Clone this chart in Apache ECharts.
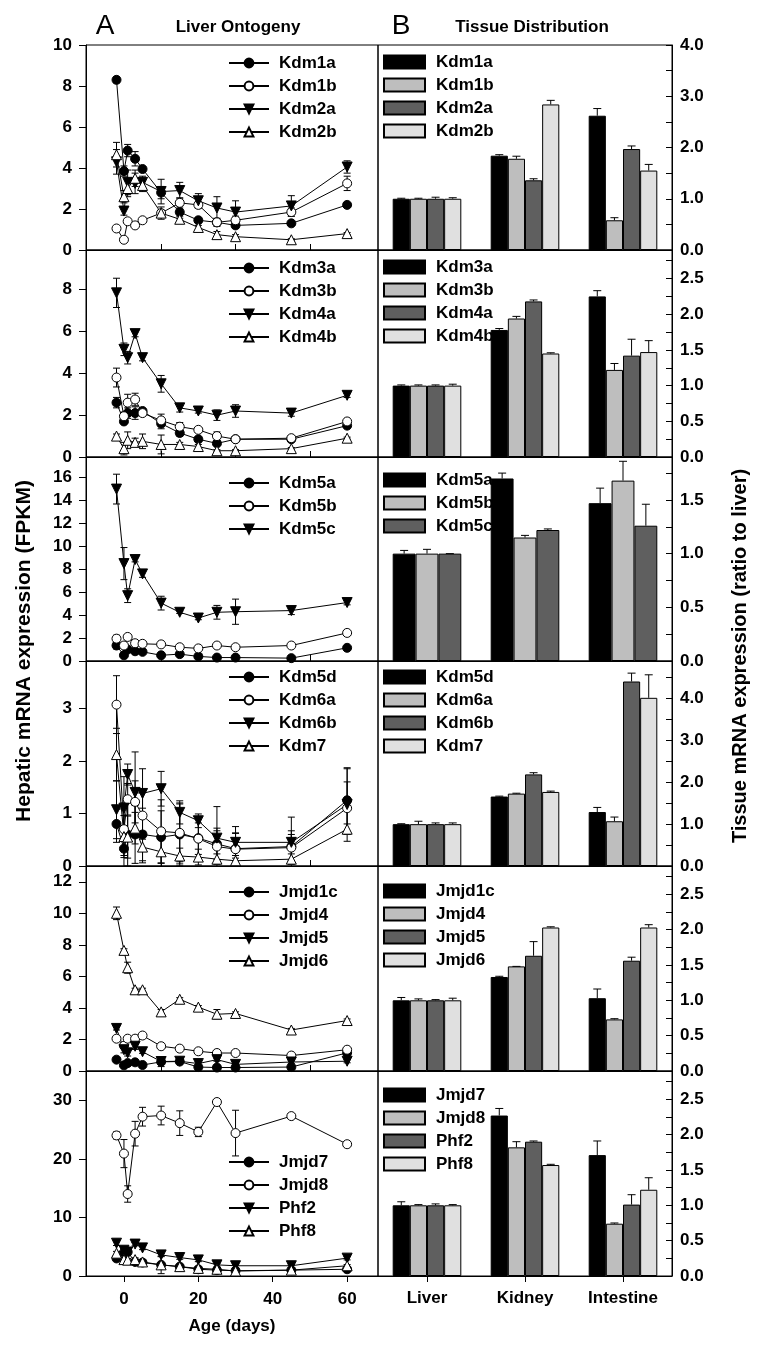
<!DOCTYPE html>
<html><head><meta charset="utf-8">
<script src="https://cdn.jsdelivr.net/npm/echarts@6/dist/echarts.min.js"></script>
<style>html,body{margin:0;padding:0;background:#fff}#c{width:764px;height:1350px}</style>
</head><body><div id="c"></div>
<script>
// ---------------- DATA ----------------
const days = [-2, 0, 1, 3, 5, 10, 15, 20, 25, 30, 45, 60];
const tissues = ['Liver', 'Kidney', 'Intestine'];

const row1Genes = ['Kdm1a', 'Kdm1b', 'Kdm2a', 'Kdm2b'];
const row1Ontogeny = [
  [8.3, 3.85, 4.85, 4.45, 3.95, 2.8, 1.85, 1.45, 1.35, 1.2, 1.3, 2.2],
  [1.05, 0.5, 1.4, 1.2, 1.45, 1.8, 2.3, 2.2, 1.35, 1.45, 1.85, 3.25],
  [4.3, 1.9, 3.3, 3.25, 3.3, 2.85, 2.9, 2.4, 2.05, 1.85, 2.15, 4.05],
  [4.65, 2.6, 3.0, 3.5, 3.15, 1.8, 1.5, 1.1, 0.75, 0.65, 0.5, 0.8]
];
const row1OntogenyErr = [
  [0.15, 0.25, 0.3, 0.35, 0.1, 0.3, 0.3, 0.1, 0.15, 0.15, 0.1, 0.1],
  [0.1, 0.1, 0.1, 0.1, 0.1, 0.15, 0.25, 0.15, 0.2, 0.2, 0.2, 0.35],
  [0.6, 0.2, 0.6, 0.5, 0.3, 0.6, 0.4, 0.35, 0.55, 0.55, 0.5, 0.3],
  [0.6, 0.3, 0.4, 0.4, 0.3, 0.3, 0.15, 0.1, 0.15, 0.1, 0.05, 0.05]
];
const row1Tissue = [[1, 1.84, 2.62], [1, 1.78, 0.58], [1, 1.36, 1.97], [1, 2.84, 1.55]];
const row1TissueErr = [[0.01, 0.02, 0.14], [0.01, 0.05, 0.05], [0.03, 0.03, 0.06], [0.02, 0.08, 0.12]];

const row2Genes = ['Kdm3a', 'Kdm3b', 'Kdm4a', 'Kdm4b'];
const row2Ontogeny = [
  [2.6, 1.7, 2.1, 2.1, 2.2, 1.6, 1.15, 0.85, 0.65, 0.85, 0.85, 1.5],
  [3.8, 1.95, 2.6, 2.75, 2.1, 1.75, 1.45, 1.3, 1.0, 0.85, 0.9, 1.7],
  [7.85, 5.15, 4.75, 5.9, 4.75, 3.5, 2.35, 2.2, 2.0, 2.2, 2.1, 2.95],
  [1.0, 0.4, 0.8, 0.7, 0.75, 0.6, 0.6, 0.5, 0.3, 0.3, 0.4, 0.9]
];
const row2OntogenyErr = [
  [0.25, 0.1, 0.25, 0.3, 0.1, 0.25, 0.15, 0.1, 0.1, 0.1, 0.1, 0.1],
  [0.45, 0.2, 0.4, 0.3, 0.15, 0.3, 0.2, 0.1, 0.2, 0.1, 0.1, 0.1],
  [0.7, 0.3, 0.3, 0.15, 0.15, 0.4, 0.2, 0.1, 0.25, 0.3, 0.15, 0.1],
  [0.1, 0.3, 0.4, 0.2, 0.35, 0.45, 0.1, 0.1, 0.05, 0.05, 0.05, 0.05]
];
const row2Tissue = [[1, 1.78, 2.25], [1, 1.94, 1.22], [1, 2.18, 1.42], [1, 1.45, 1.47]];
const row2TissueErr = [[0.01, 0.02, 0.08], [0.01, 0.03, 0.09], [0.01, 0.02, 0.23], [0.02, 0.01, 0.16]];

const row3Genes = ['Kdm5a', 'Kdm5b', 'Kdm5c'];
const row3Ontogeny = [
  [1.35, 0.5, 1.0, 0.85, 0.8, 0.5, 0.6, 0.4, 0.3, 0.3, 0.25, 1.15],
  [1.95, 1.35, 2.1, 1.55, 1.5, 1.45, 1.2, 1.1, 1.35, 1.2, 1.35, 2.45],
  [15.0, 8.5, 5.7, 8.85, 7.6, 5.05, 4.25, 3.75, 4.25, 4.3, 4.4, 5.1]
];
const row3OntogenyErr = [
  [0.3, 0.1, 0.2, 0.1, 0.1, 0.1, 0.1, 0.05, 0.05, 0.05, 0.05, 0.1],
  [0.3, 0.2, 0.2, 0.2, 0.1, 0.1, 0.1, 0.1, 0.1, 0.1, 0.1, 0.1],
  [1.3, 1.4, 0.6, 0.2, 0.3, 0.6, 0.1, 0.15, 0.6, 1.1, 0.35, 0.2]
];
const row3Tissue = [[1, 1.70, 1.47], [1, 1.15, 1.68], [1, 1.22, 1.26]];
const row3TissueErr = [[0.03, 0.05, 0.14], [0.04, 0.02, 0.18], [0.0, 0.01, 0.2]];

const row4Genes = ['Kdm5d', 'Kdm6a', 'Kdm6b', 'Kdm7'];
const row4Ontogeny = [
  [0.8, 0.33, 0.6, 0.6, 0.6, 0.55, 0.6, 0.53, 0.42, 0.33, 0.37, 1.25],
  [3.07, 0.7, 1.27, 1.22, 0.96, 0.66, 0.63, 0.52, 0.37, 0.32, 0.35, 1.1],
  [1.07, 1.1, 1.74, 1.4, 1.38, 1.47, 1.02, 0.86, 0.53, 0.45, 0.45, 1.17],
  [2.12, 0.56, 0.55, 0.72, 0.36, 0.27, 0.19, 0.17, 0.13, 0.1, 0.13, 0.7]
];
const row4OntogenyErr = [
  [0.35, 0.35, 0.6, 0.55, 0.5, 0.5, 0.6, 0.4, 0.3, 0.3, 0.3, 0.6],
  [0.55, 0.5, 0.3, 0.4, 0.45, 0.6, 0.55, 0.3, 0.3, 0.3, 0.25, 0.5],
  [0.55, 0.6, 0.2, 0.77, 0.47, 0.33, 0.22, 0.13, 0.6, 0.3, 0.48, 0.7],
  [0.5, 0.4, 0.4, 0.3, 0.3, 0.3, 0.15, 0.15, 0.1, 0.1, 0.1, 0.1]
];
const row4Tissue = [[1, 1.66, 1.29], [1, 1.73, 1.07], [1, 2.19, 4.41], [1, 1.77, 4.02]];
const row4TissueErr = [[0.01, 0.01, 0.11], [0.07, 0.01, 0.1], [0.03, 0.04, 0.2], [0.03, 0.02, 0.55]];

const row5Genes = ['Jmjd1c', 'Jmjd4', 'Jmjd5', 'Jmjd6'];
const row5Ontogeny = [
  [0.72, 0.36, 0.5, 0.55, 0.38, 0.58, 0.6, 0.25, 0.22, 0.22, 0.25, 1.15],
  [2.05, 1.6, 2.05, 2.05, 2.25, 1.57, 1.42, 1.25, 1.14, 1.14, 0.98, 1.35],
  [2.7, 1.35, 1.15, 1.57, 1.22, 0.6, 0.62, 0.47, 0.72, 0.42, 0.57, 0.62],
  [10.0, 7.65, 6.55, 5.15, 5.15, 3.75, 4.55, 4.05, 3.6, 3.65, 2.6, 3.2]
];
const row5OntogenyErr = [
  [0.1, 0.1, 0.1, 0.1, 0.1, 0.3, 0.1, 0.1, 0.1, 0.1, 0.1, 0.1],
  [0.15, 0.1, 0.1, 0.1, 0.1, 0.1, 0.1, 0.1, 0.1, 0.1, 0.1, 0.1],
  [0.1, 0.2, 0.2, 0.2, 0.1, 0.1, 0.1, 0.1, 0.1, 0.1, 0.1, 0.1],
  [0.4, 0.1, 0.35, 0.1, 0.1, 0.15, 0.1, 0.1, 0.3, 0.1, 0.1, 0.1]
];
const row5Tissue = [[1, 1.33, 1.03], [1, 1.48, 0.73], [1, 1.63, 1.56], [1, 2.03, 2.03]];
const row5TissueErr = [[0.04, 0.01, 0.13], [0.02, 0.0, 0.01], [0.01, 0.2, 0.05], [0.03, 0.01, 0.04]];

const row6Genes = ['Jmjd7', 'Jmjd8', 'Phf2', 'Phf8'];
const row6Ontogeny = [
  [3.0, 4.0, 4.1, 2.4, 2.3, 1.9, 1.6, 1.15, 1.0, 0.9, 1.0, 1.15],
  [24.0, 20.9, 14.0, 24.3, 27.2, 27.4, 26.1, 24.6, 29.7, 24.4, 27.3, 22.5],
  [5.6, 4.4, 4.1, 5.45, 4.8, 3.6, 3.15, 2.75, 1.9, 1.75, 1.75, 3.05],
  [3.9, 2.8, 2.7, 2.8, 2.4, 1.9, 1.6, 1.3, 1.15, 0.85, 1.0, 1.75]
];
const row6OntogenyErr = [
  [0.4, 0.5, 0.5, 0.3, 0.3, 0.3, 0.2, 0.2, 0.2, 0.2, 0.2, 0.2],
  [0.6, 2.4, 1.4, 2.1, 1.6, 1.6, 2.1, 0.8, 0.4, 3.9, 0.4, 0.4],
  [0.4, 0.4, 0.4, 0.3, 0.3, 0.3, 0.3, 0.3, 0.3, 0.3, 0.3, 0.3],
  [0.3, 0.3, 0.3, 0.3, 0.3, 1.5, 0.3, 0.3, 0.2, 0.2, 0.2, 0.2]
];
const row6Tissue = [[1, 2.27, 1.71], [1, 1.82, 0.74], [1, 1.90, 1.01], [1, 1.57, 1.22]];
const row6TissueErr = [[0.05, 0.1, 0.2], [0.01, 0.08, 0.01], [0.02, 0.01, 0.14], [0.01, 0.01, 0.17]];

// tick labels
const leftTickLabels = [
  [0, 2, 4, 6, 8, 10], [0, 2, 4, 6, 8], [0, 2, 4, 6, 8, 10, 12, 14, 16],
  [0, 1, 2, 3], [0, 2, 4, 6, 8, 10, 12], [0, 10, 20, 30]
];
const rightTickLabels = [
  [0, 1, 2, 3, 4], [0, 0.5, 1, 1.5, 2, 2.5], [0, 0.5, 1, 1.5],
  [0, 1, 2, 3, 4], [0, 0.5, 1, 1.5, 2, 2.5], [0, 0.5, 1, 1.5, 2, 2.5]
];
const rightTickMarks = [
  [0, 0.5, 1, 1.5, 2, 2.5, 3, 3.5, 4],
  [0, 0.25, 0.5, 0.75, 1, 1.25, 1.5, 1.75, 2, 2.25, 2.5, 2.75],
  [0, 0.25, 0.5, 0.75, 1, 1.25, 1.5, 1.75],
  [0, 0.5, 1, 1.5, 2, 2.5, 3, 3.5, 4, 4.5],
  [0, 0.25, 0.5, 0.75, 1, 1.25, 1.5, 1.75, 2, 2.25, 2.5, 2.75],
  [0, 0.25, 0.5, 0.75, 1, 1.25, 1.5, 1.75, 2, 2.25, 2.5, 2.75]
];
const dayTickLabels = [0, 20, 40, 60];
const dayInnerTicks = [10, 30, 50];

// ---------------- LAYOUT / STYLE ----------------
const FONT = "'Liberation Sans', Arial, Helvetica, sans-serif";
const rows = [
  {genes: row1Genes, ont: row1Ontogeny, ontErr: row1OntogenyErr, tis: row1Tissue, tisErr: row1TissueErr},
  {genes: row2Genes, ont: row2Ontogeny, ontErr: row2OntogenyErr, tis: row2Tissue, tisErr: row2TissueErr},
  {genes: row3Genes, ont: row3Ontogeny, ontErr: row3OntogenyErr, tis: row3Tissue, tisErr: row3TissueErr},
  {genes: row4Genes, ont: row4Ontogeny, ontErr: row4OntogenyErr, tis: row4Tissue, tisErr: row4TissueErr},
  {genes: row5Genes, ont: row5Ontogeny, ontErr: row5OntogenyErr, tis: row5Tissue, tisErr: row5TissueErr},
  {genes: row6Genes, ont: row6Ontogeny, ontErr: row6OntogenyErr, tis: row6Tissue, tisErr: row6TissueErr}
];
const rowTop = [45, 250, 457, 661, 866, 1071];
const rowH = [205, 207, 204, 205, 205, 205];
const leftMax = [10, 9.9, 17.8, 3.9, 13, 35];
const rightMax = [4.0, 2.9, 1.9, 4.9, 2.9, 2.9];
const legLeftY = [63, 268, 483, 677, 892, 1162];
const legRightY = [62, 267, 480, 677, 891, 1095];
const LX = 86, LW = 292, RX = 378, RW = 294;

const markers = [
  {symbol: 'circle', rotate: 0, fill: '#000', size: 9},
  {symbol: 'circle', rotate: 0, fill: '#fff', size: 9},
  {symbol: 'triangle', rotate: 180, fill: '#000', size: 10},
  {symbol: 'triangle', rotate: 0, fill: '#fff', size: 10}
];
const barColors = ['#000000', '#bebebe', '#5f5f5f', '#e0e0e0'];

const lblStyle = {color: '#000', fontSize: 17, fontWeight: 'bold', fontFamily: FONT};
const axLine = {show: true, onZero: false, lineStyle: {color: '#000', width: 1}};

function lineErr(params, api) {
  const x = api.value(0), y = api.value(1), e = api.value(2);
  const t = api.coord([x, y + e]), b = api.coord([x, y - e]);
  const hw = 3.5, st = {stroke: '#000', lineWidth: 1};
  return {type: 'group', children: [
    {type: 'line', shape: {x1: t[0], y1: t[1], x2: b[0], y2: b[1]}, style: st},
    {type: 'line', shape: {x1: t[0] - hw, y1: t[1], x2: t[0] + hw, y2: t[1]}, style: st},
    {type: 'line', shape: {x1: b[0] - hw, y1: b[1], x2: b[0] + hw, y2: b[1]}, style: st}
  ]};
}
function barErr(i, n) {
  return function (params, api) {
    const c = api.value(0), v = api.value(1), e = api.value(2);
    const p0 = api.coord([c, v]), p1 = api.coord([c, v + e]);
    const band = api.size([1, 0])[0];
    const gw = band * 0.7, bw = gw / n;
    const x = p0[0] - gw / 2 + bw * (i + 0.5);
    const hw = 4, st = {stroke: '#000', lineWidth: 1};
    return {type: 'group', children: [
      {type: 'line', shape: {x1: x, y1: p0[1], x2: x, y2: p1[1]}, style: st},
      {type: 'line', shape: {x1: x - hw, y1: p1[1], x2: x + hw, y2: p1[1]}, style: st}
    ]};
  };
}

const grid = [], xAxis = [], yAxis = [], series = [], legend = [];
rows.forEach((row, r) => {
  const li = 2 * r, ri = 2 * r + 1, last = r === 5;
  grid.push({left: LX, top: rowTop[r], width: LW, height: rowH[r], show: true,
    borderColor: '#000', borderWidth: 1, outerBoundsMode: 'none'});
  grid.push({left: RX, top: rowTop[r], width: RW, height: rowH[r], show: true,
    borderColor: '#000', borderWidth: 1, outerBoundsMode: 'none'});

  xAxis.push({type: 'value', gridIndex: li, min: -10.2, max: 68.3, splitLine: {show: false},
    axisLine: axLine,
    axisTick: {show: true, inside: !last, length: 6, lineStyle: {color: '#000'},
      customValues: last ? dayTickLabels : dayInnerTicks},
    axisLabel: {show: last, customValues: dayTickLabels, margin: 15, ...lblStyle},
    name: last ? 'Age (days)' : '', nameLocation: 'middle', nameGap: 42,
    nameTextStyle: {...lblStyle}});
  xAxis.push({type: 'category', gridIndex: ri, data: tissues, splitLine: {show: false},
    axisLine: axLine,
    axisTick: {show: true, inside: !last, length: 6, alignWithLabel: true, lineStyle: {color: '#000'}},
    axisLabel: {show: last, margin: 14, ...lblStyle}});

  yAxis.push({type: 'value', gridIndex: li, min: 0, max: leftMax[r], splitLine: {show: false},
    axisLine: axLine,
    axisTick: {show: true, inside: false, length: 7, lineStyle: {color: '#000'}, customValues: leftTickLabels[r]},
    axisLabel: {customValues: leftTickLabels[r], margin: 14, ...lblStyle}});
  yAxis.push({type: 'value', gridIndex: ri, position: 'right', min: 0, max: rightMax[r], splitLine: {show: false},
    axisLine: axLine,
    axisTick: {show: true, inside: true, length: 6, lineStyle: {color: '#000'}, customValues: rightTickMarks[r]},
    axisLabel: {customValues: rightTickLabels[r], margin: 8, formatter: v => Number(v).toFixed(1), ...lblStyle}});

  const n = row.genes.length;
  row.genes.forEach((g, i) => {
    series.push({type: 'custom', name: g + '|err', xAxisIndex: li, yAxisIndex: li, clip: true, silent: true, z: 1,
      data: days.map((d, k) => [d, row.ont[i][k], row.ontErr[i][k]]), renderItem: lineErr,
      encode: {x: 0, y: 1}});
  });
  row.genes.forEach((g, i) => {
    const m = markers[i];
    series.push({type: 'line', name: g + '|liver', xAxisIndex: li, yAxisIndex: li, z: 3,
      data: days.map((d, k) => [d, row.ont[i][k]]),
      symbol: m.symbol, symbolSize: m.size, symbolRotate: m.rotate, showAllSymbol: true,
      itemStyle: {color: m.fill, borderColor: '#000', borderWidth: 1, opacity: 1},
      lineStyle: {color: '#000', width: 1}, animation: false});
  });
  row.genes.forEach((g, i) => {
    series.push({type: 'bar', name: g + '|tissue', xAxisIndex: ri, yAxisIndex: ri, z: 2,
      data: row.tis[i], barGap: '0%', barCategoryGap: '30%',
      itemStyle: {color: barColors[i], borderColor: '#000', borderWidth: 1}, animation: false});
  });
  row.genes.forEach((g, i) => {
    series.push({type: 'custom', name: g + '|terr', xAxisIndex: ri, yAxisIndex: ri, silent: true, z: 4,
      data: tissues.map((t, k) => [k, row.tis[i][k], row.tisErr[i][k]]), renderItem: barErr(i, n),
      encode: {x: 0, y: 1}});
  });

  legend.push({orient: 'vertical', left: 228, top: legLeftY[r] - 8.5, itemWidth: 40, itemHeight: 11, itemGap: 6,
    padding: 0, data: row.genes.map(g => g + '|liver'), formatter: nm => nm.split('|')[0], selectedMode: false,
    textStyle: {...lblStyle, lineHeight: 17, padding: [0, 0, 0, 5]}});
  legend.push({orient: 'vertical', left: 383, top: legRightY[r] - 8.5, itemWidth: 41, itemHeight: 13, itemGap: 6,
    padding: 0, icon: 'rect', data: row.genes.map(g => g + '|tissue'), formatter: nm => nm.split('|')[0], selectedMode: false,
    textStyle: {...lblStyle, lineHeight: 17, padding: [0, 0, 0, 6]}});
});

const graphic = [
  {type: 'text', x: 105, y: 26, style: {text: 'A', fontSize: 28, fontFamily: FONT, fill: '#000', textAlign: 'center', textVerticalAlign: 'middle'}},
  {type: 'text', x: 238, y: 27, style: {text: 'Liver Ontogeny', fontSize: 17, fontWeight: 'bold', fontFamily: FONT, fill: '#000', textAlign: 'center', textVerticalAlign: 'middle'}},
  {type: 'text', x: 401, y: 26, style: {text: 'B', fontSize: 28, fontFamily: FONT, fill: '#000', textAlign: 'center', textVerticalAlign: 'middle'}},
  {type: 'text', x: 532, y: 27, style: {text: 'Tissue Distribution', fontSize: 17, fontWeight: 'bold', fontFamily: FONT, fill: '#000', textAlign: 'center', textVerticalAlign: 'middle'}},
  {type: 'text', x: 24, y: 651, rotation: Math.PI / 2, style: {text: 'Hepatic mRNA expression (FPKM)', fontSize: 21, fontWeight: 'bold', fontFamily: FONT, fill: '#000', textAlign: 'center', textVerticalAlign: 'middle'}},
  {type: 'text', x: 740, y: 656, rotation: Math.PI / 2, style: {text: 'Tissue mRNA expression (ratio to liver)', fontSize: 20, fontWeight: 'bold', fontFamily: FONT, fill: '#000', textAlign: 'center', textVerticalAlign: 'middle'}}
];

const chart = echarts.init(document.getElementById('c'), null, {renderer: 'canvas'});
chart.setOption({animation: false, backgroundColor: '#fff', grid, xAxis, yAxis, series, legend, graphic});
</script></body></html>
